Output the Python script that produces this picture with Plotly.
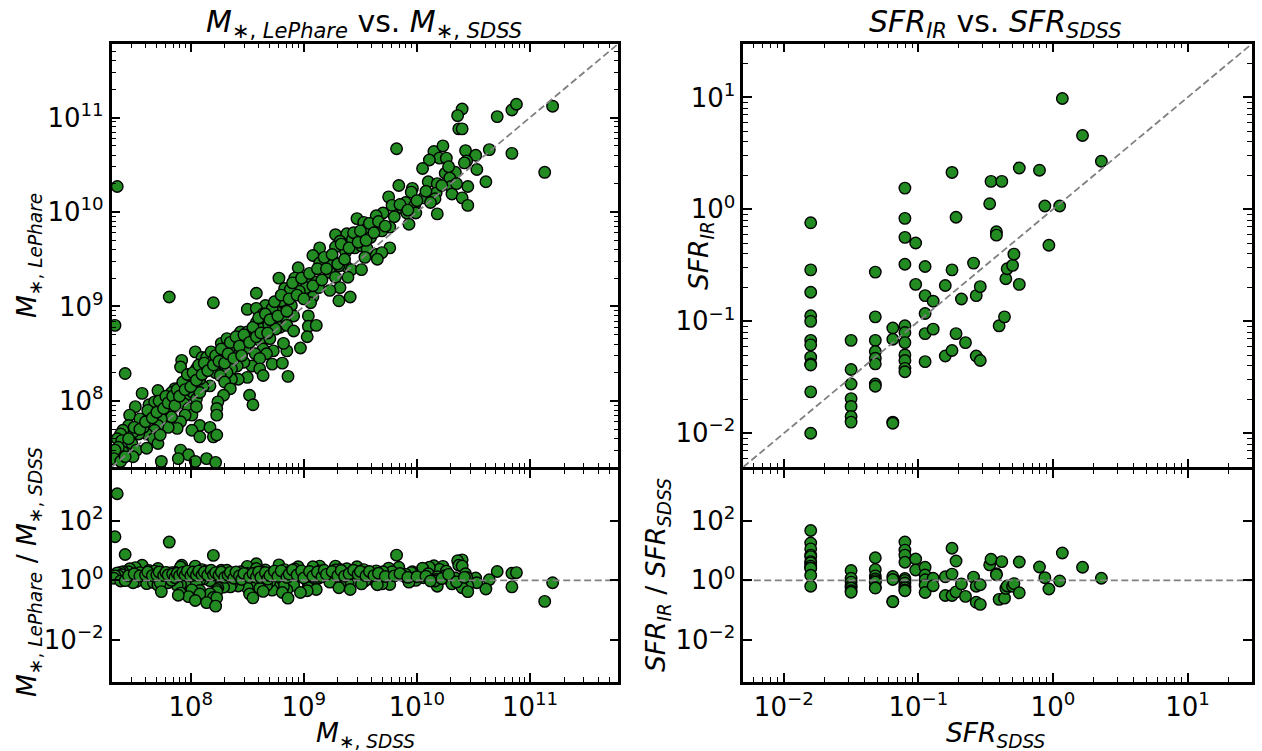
import numpy as np
import plotly.graph_objects as go

# ---------------- data (log10 values) ----------------
# Stellar masses: SDSS (x) and LePhare (y), log10(M/Msun)
logM_sdss = [
    10.40, 10.36, 10.71, 10.84, 10.88, 11.20, 10.37, 10.40, 9.82, 10.15,
    10.23, 10.20, 10.26, 10.11, 10.43, 10.52, 10.44, 10.64, 10.84, 11.13,
    10.05, 10.25, 10.34, 10.29, 10.53, 10.10, 10.18, 10.30, 10.45, 10.61,
    9.96, 9.84, 9.95, 10.06, 10.17, 10.31, 10.40, 10.45, 10.18, 9.75,
    9.78, 9.90, 9.87, 9.98, 9.91, 9.99, 9.93, 10.16,
    9.70, 9.63, 9.64, 9.47, 9.53, 9.56, 9.76, 9.69, 9.59, 9.76,
    9.64, 9.69, 9.65, 9.28, 9.38, 9.43, 9.32, 9.28, 9.37, 9.45,
    9.51, 9.56, 9.54, 9.37, 9.26, 9.31, 9.22, 9.14, 9.08, 9.14,
    9.23, 9.28, 9.42, 9.51, 9.39, 9.32, 9.23, 9.31, 9.41, 8.95,
    8.92, 8.78, 8.83, 8.97, 9.03, 9.02, 9.11, 9.13, 9.08, 9.06,
    8.96, 8.88, 8.80, 8.89, 8.83, 8.91, 8.76, 8.66, 8.58, 8.50,
    8.58, 8.64, 8.72, 8.58, 8.63, 8.69, 8.75, 8.83, 8.79, 8.85,
    8.75, 8.91, 9.04, 9.04, 9.11, 9.03, 8.97, 8.85, 8.82, 8.73,
    8.72, 8.81, 8.86, 8.44, 8.50, 8.57, 8.61, 8.49, 8.48, 8.41,
    8.35, 8.27, 8.32, 8.64, 8.57, 8.70, 8.67, 8.61, 8.54, 8.47,
    8.41, 8.36, 8.50, 8.42, 8.36, 8.32, 8.29, 8.23, 8.17, 8.14,
    8.22, 8.26, 8.30, 8.35, 8.29, 8.24, 8.23, 8.23, 8.17, 8.11,
    8.08, 8.05, 8.04, 8.10, 8.14, 8.01, 7.99, 7.96, 8.02, 8.05,
    8.08, 7.92, 7.91, 8.61, 8.64, 8.52, 8.55, 7.92, 7.86, 7.83,
    7.79, 7.71, 7.57, 7.63, 7.51, 7.46, 7.55, 7.64, 7.68, 7.74,
    7.79, 7.85, 7.94, 7.98, 8.01, 7.95, 8.05, 7.91, 7.88, 7.80,
    7.83, 7.74, 7.71, 7.68, 7.61, 7.58, 7.54, 7.49, 7.45, 7.40,
    7.38, 7.35, 7.39, 7.43, 7.48, 7.52, 7.61, 7.67, 7.71, 7.73,
    7.49, 7.40, 7.36, 7.33, 7.32, 7.38, 7.42, 8.08, 8.17, 8.01,
    8.08, 8.20, 8.23, 7.91, 7.98, 7.74, 7.89, 8.04, 8.14, 8.22,
    7.35, 7.33, 7.42, 7.81, 8.20,
    # partly hidden points inside the dense band
    7.45, 7.50, 7.55, 7.60, 7.62, 7.66, 7.70, 7.72, 7.76, 7.78,
    7.80, 7.84, 7.86, 7.88, 7.90, 7.93, 7.95, 7.97, 8.00, 8.02,
    8.05, 8.07, 8.10, 8.12, 8.15, 8.18, 8.20, 8.22, 8.25, 8.27,
    8.30, 8.33, 8.35, 8.38, 8.40, 8.43, 8.45, 8.47, 8.52, 8.55,
    8.58, 8.60, 8.62, 8.66, 8.68, 8.70, 8.74, 8.77, 8.80, 8.85,
    8.87, 8.90, 8.94, 8.98, 9.00, 9.05, 9.08, 9.12, 9.16, 9.18,
    9.20, 9.25, 9.30, 9.33, 9.36, 9.40, 9.44, 9.48, 9.50, 9.55,
    9.58, 9.62, 9.66, 9.72, 9.80, 9.85, 9.92, 10.00, 10.08, 10.12,
    10.22, 10.28, 10.35, 10.42,
]
logM_lephare = [
    11.09, 11.02, 11.01, 11.08, 11.14, 11.12, 10.88, 10.88, 10.67, 10.64,
    10.70, 10.57, 10.57, 10.55, 10.65, 10.60, 10.54, 10.66, 10.62, 10.42,
    10.46, 10.41, 10.42, 10.36, 10.45, 10.32, 10.30, 10.27, 10.27, 10.32,
    10.25, 10.28, 10.21, 10.15, 10.20, 10.19, 10.15, 10.07, 9.98, 10.16,
    10.07, 10.10, 10.04, 10.07, 9.99, 9.99, 9.87, 10.14,
    9.99, 9.91, 9.96, 9.93, 9.89, 9.83, 9.84, 9.80, 9.73, 9.62,
    9.55, 9.57, 9.50, 9.76, 9.77, 9.71, 9.69, 9.63, 9.58, 9.62,
    9.64, 9.61, 9.52, 9.43, 9.48, 9.43, 9.46, 9.62, 9.54, 9.46,
    9.36, 9.31, 9.39, 9.39, 9.31, 9.20, 9.17, 9.06, 9.10, 9.41,
    9.30, 9.30, 9.19, 9.22, 9.27, 9.20, 9.26, 9.20, 9.10, 9.04,
    9.16, 9.18, 9.06, 9.01, 8.94, 8.90, 8.94, 9.01, 9.14, 8.97,
    8.98, 8.92, 8.98, 8.83, 8.76, 8.81, 8.85, 8.85, 8.78, 8.80,
    8.76, 8.74, 8.90, 8.79, 8.80, 8.68, 8.56, 8.53, 8.61, 8.53,
    8.39, 8.40, 8.26, 8.73, 8.73, 8.69, 8.64, 8.64, 8.55, 8.55,
    8.57, 8.61, 8.66, 8.55, 8.50, 8.66, 8.50, 8.45, 8.37, 8.41,
    8.37, 8.34, 8.25, 8.23, 8.23, 8.30, 8.45, 8.39, 8.45, 8.34,
    8.30, 8.27, 8.20, 8.13, 8.06, 7.99, 7.92, 7.85, 8.16, 8.15,
    8.23, 8.34, 8.52, 8.46, 8.46, 8.20, 8.11, 8.06, 8.09, 8.02,
    8.09, 8.43, 8.36, 8.34, 8.27, 8.06, 7.96, 8.16, 8.13, 8.09,
    8.04, 8.11, 8.08, 7.96, 7.94, 7.85, 7.81, 7.87, 7.99, 7.94,
    7.88, 8.02, 7.97, 7.92, 7.85, 7.85, 7.94, 7.78, 7.71, 7.72,
    7.83, 7.81, 7.74, 7.69, 7.65, 7.72, 7.65, 7.67, 7.74, 7.69,
    7.65, 7.60, 7.58, 7.51, 7.55, 7.48, 7.50, 7.60, 7.55, 7.64,
    7.41, 7.46, 7.51, 7.48, 7.39, 7.36, 7.41, 7.74, 7.72, 7.69,
    7.62, 7.62, 7.64, 7.48, 7.43, 7.36, 7.39, 7.36, 7.39, 7.35,
    10.27, 8.80, 8.29, 9.10, 9.04,
    # partly hidden points inside the dense band
    7.60, 7.72, 7.70, 7.78, 7.90, 7.82, 7.88, 8.00, 7.92, 8.05,
    7.98, 8.05, 7.95, 8.12, 8.05, 8.20, 8.12, 8.28, 8.15, 8.30,
    8.22, 8.38, 8.28, 8.40, 8.32, 8.52, 8.38, 8.48, 8.42, 8.55,
    8.40, 8.50, 8.62, 8.45, 8.68, 8.58, 8.48, 8.70, 8.62, 8.78,
    8.68, 8.88, 8.72, 8.92, 8.72, 8.86, 9.05, 8.90, 9.12, 8.95,
    9.08, 9.25, 9.12, 9.30, 9.08, 9.35, 9.22, 9.40, 9.28, 9.52,
    9.40, 9.55, 9.45, 9.66, 9.50, 9.62, 9.78, 9.68, 9.80, 9.70,
    9.88, 9.78, 9.90, 9.85, 9.95, 10.08, 10.02, 10.12, 10.22, 10.10,
    10.28, 10.48, 10.30, 10.52,
]

# Star formation rates: SDSS (x) and IR (y), log10(SFR / Msun yr^-1)
logSFR_sdss = [
    -1.80, -1.80, -1.80, -1.80, -1.80, -1.80, -1.80, -1.80, -1.80, -1.80, -1.80, -1.80,
    -1.50, -1.50, -1.50, -1.50, -1.50, -1.50, -1.50,
    -1.32, -1.32, -1.32, -1.32, -1.32, -1.32, -1.32, -1.32,
    -1.19, -1.19, -1.19, -1.19,
    -1.10, -1.10, -1.10, -1.10, -1.10, -1.10, -1.10, -1.10, -1.10, -1.10, -1.10,
    -1.02, -1.02, -0.95, -0.95, -0.95, -0.95, -0.95, -0.89, -0.89, -0.80,
    -0.80, -0.75, -0.75, -0.75, -0.72, -0.72, -0.68, -0.65, -0.59, -0.57,
    -0.57, -0.54, -0.54, -0.47, -0.46, -0.42, -0.42, -0.40, -0.38, -0.36,
    -0.35, -0.34, -0.30, -0.29, -0.25, -0.25, -0.10, -0.06, -0.03, 0.05,
    0.07, 0.22, 0.36,
]
logSFR_ir = [
    -0.12, -0.54, -0.74, -0.95, -1.00, -1.17, -1.21, -1.32, -1.38, -1.39, -1.63, -2.00,
    -1.17, -1.43, -1.56, -1.69, -1.76, -1.85, -1.90,
    -0.56, -0.96, -1.17, -1.27, -1.33, -1.38, -1.56, -1.58,
    -1.06, -1.16, -1.90, -1.91,
    0.19, -0.08, -0.25, -0.49, -1.04, -1.10, -1.19, -1.30, -1.35, -1.42, -1.45,
    -0.30, -0.67, -0.51, -0.77, -0.93, -1.11, -1.36, -0.82, -1.07, -0.68,
    -1.31, 0.33, -0.54, -1.26, -0.07, -1.11, -0.80, -1.19, -0.48, -0.77,
    -1.31, -0.69, -1.35, 0.05, 0.25, -0.20, -0.23, -1.04, 0.25, -0.96,
    -0.62, -0.53, -0.50, -0.40, 0.37, -0.67, 0.35, 0.03, -0.32, 0.03,
    0.99, 0.66, 0.43,
]

# axis limits and tick labels
M_LIM = (2e7, 6e11)
SFR_LIM = (5e-3, 30.0)
RATIO_LIM = (3.9e-4, 5.4e3)

M_TICKS = [1e8, 1e9, 1e10, 1e11]
M_TICKTEXT = ["10<sup>8</sup>", "10<sup>9</sup>", "10<sup>10</sup>", "10<sup>11</sup>"]
SFR_TICKS = [1e-2, 1e-1, 1e0, 1e1]
SFR_TICKTEXT = ["10<sup>\u22122</sup>", "10<sup>\u22121</sup>", "10<sup>0</sup>", "10<sup>1</sup>"]
RATIO_TICKS = [1e-2, 1e0, 1e2]
RATIO_TICKTEXT = ["10<sup>\u22122</sup>", "10<sup>0</sup>", "10<sup>2</sup>"]

# ---------------- derived quantities ----------------
m_sdss = np.power(10.0, np.array(logM_sdss))
m_leph = np.power(10.0, np.array(logM_lephare))
m_ratio = m_leph / m_sdss
sfr_sdss = np.power(10.0, np.array(logSFR_sdss))
sfr_ir = np.power(10.0, np.array(logSFR_ir))
sfr_ratio = sfr_ir / sfr_sdss

# ---------------- styling ----------------
W, H = 1262, 751
FONT = "DejaVu Sans"
GREEN = "#228B22"
LW = 2.6
MARKER = dict(color=GREEN, size=11.5, line=dict(color="black", width=1.4))
DASH = dict(color="#808080", width=1.8, dash="7px,3.5px")

def px_x(p):
    return p / W

def px_y(p):
    return 1 - p / H

XL = [px_x(111.7), px_x(618.0)]
XR = [px_x(743.3), px_x(1251.7)]
# top and bottom panels share the dividing spine at y = 468.3 px
YT = [px_y(468.3 - LW / 2), px_y(44.0)]
YB = [px_y(681.5), px_y(468.3 + LW / 2)]

fig = go.Figure()

def add_panel(x, y, xa, ya, lim_x, diag):
    fig.add_trace(go.Scatter(x=x, y=y, mode="markers", marker=MARKER,
                             xaxis=xa, yaxis=ya, hoverinfo="skip"))
    ys = list(lim_x) if diag else [1.0, 1.0]
    fig.add_trace(go.Scatter(x=list(lim_x), y=ys, mode="lines",
                             line=DASH, xaxis=xa, yaxis=ya, hoverinfo="skip"))

add_panel(m_sdss, m_leph, "x", "y", M_LIM, True)
add_panel(m_sdss, m_ratio, "x2", "y2", M_LIM, False)
add_panel(sfr_sdss, sfr_ir, "x3", "y3", SFR_LIM, True)
add_panel(sfr_sdss, sfr_ratio, "x4", "y4", SFR_LIM, False)

MINOR = dict(ticks="inside", ticklen=4.5, tickwidth=1.2, tickcolor="black",
             dtick="D1", showgrid=False)

def ax(domain, anchor, lim, ticks, text, labels=True, minor=True):
    d = dict(type="log", domain=domain, anchor=anchor,
             range=[np.log10(lim[0]), np.log10(lim[1])],
             showline=True, linecolor="black", linewidth=LW, mirror="allticks",
             ticks="inside", ticklen=8.5, tickwidth=1.5, tickcolor="black",
             tickmode="array", tickvals=ticks, ticktext=text,
             showticklabels=labels, showgrid=False, zeroline=False,
             tickfont=dict(family=FONT, size=26, color="black"))
    if minor:
        d["minor"] = MINOR
    return d

fig.update_layout(
    width=W, height=H,
    margin=dict(l=0, r=0, t=0, b=0),
    paper_bgcolor="white", plot_bgcolor="white",
    showlegend=False,
    font=dict(family=FONT, size=26, color="black"),
    xaxis=ax(XL, "y", M_LIM, M_TICKS, M_TICKTEXT, labels=False),
    yaxis=ax(YT, "x", M_LIM, M_TICKS, M_TICKTEXT),
    xaxis2=ax(XL, "y2", M_LIM, M_TICKS, M_TICKTEXT),
    yaxis2=ax(YB, "x2", RATIO_LIM, RATIO_TICKS, RATIO_TICKTEXT, minor=False),
    xaxis3=ax(XR, "y3", SFR_LIM, SFR_TICKS, SFR_TICKTEXT, labels=False),
    yaxis3=ax(YT, "x3", SFR_LIM, SFR_TICKS, SFR_TICKTEXT),
    xaxis4=ax(XR, "y4", SFR_LIM, SFR_TICKS, SFR_TICKTEXT),
    yaxis4=ax(YB, "x4", RATIO_LIM, RATIO_TICKS, RATIO_TICKTEXT, minor=False),
)

M_LEPH = "<i>M</i><sub>\u2217, <i>LePhare</i></sub>"
M_SDSS = "<i>M</i><sub>\u2217, <i>SDSS</i></sub>"
SFR_IR = "<i>SFR</i><sub><i>IR</i></sub>"
SFR_SD = "<i>SFR</i><sub><i>SDSS</i></sub>"

def label(text, x, y, angle=0, size=26.5):
    fig.add_annotation(text=text, x=px_x(x), y=px_y(y), xref="paper", yref="paper",
                       xanchor="center", yanchor="middle", showarrow=False,
                       textangle=angle, font=dict(family=FONT, size=size, color="black"))

label(M_LEPH + " vs. " + M_SDSS, 364, 24, size=30)
label(SFR_IR + " vs. " + SFR_SD, 995, 24, size=30)
label(M_SDSS, 365, 734)
label(SFR_SD, 996, 734)
label(M_LEPH, 28, 256, -90)
label(M_LEPH + " / " + M_SDSS, 28, 572, -90)
label(SFR_IR, 700, 256, -90)
label(SFR_IR + " / " + SFR_SD, 657, 575, -90)

fig.write_html("out.html")
